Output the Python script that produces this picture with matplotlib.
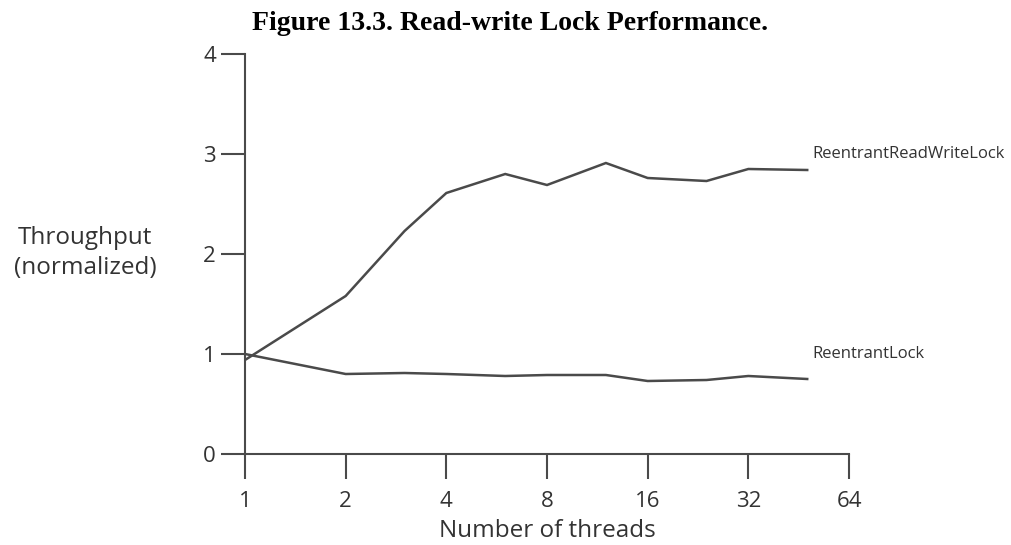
import matplotlib
matplotlib.use("Agg")
import matplotlib.pyplot as plt
from matplotlib.ticker import FixedLocator, FixedFormatter, NullLocator

# Data
threads = [1, 2, 3, 4, 6, 8, 12, 16, 24, 32, 48]
rw_lock = [0.94, 1.58, 2.23, 2.61, 2.80, 2.69, 2.91, 2.76, 2.73, 2.85, 2.84]
r_lock = [1.00, 0.80, 0.81, 0.80, 0.78, 0.79, 0.79, 0.73, 0.74, 0.78, 0.75]
x_ticks = [1, 2, 4, 8, 16, 32, 64]
x_tick_labels = ["1", "2", "4", "8", "16", "32", "64"]
y_ticks = [0, 1, 2, 3, 4]
series_labels = ["ReentrantReadWriteLock", "ReentrantLock"]
title = "Figure 13.3. Read-write Lock Performance."
xlabel = "Number of threads"
ylabel = "Throughput\n(normalized)"

W, H = 1011, 545
fig = plt.figure(figsize=(W / 100, H / 100), dpi=100)
ax = fig.add_axes([245 / W, (H - 454) / H, (849 - 245) / W, 400 / H])

line_color = "#4a4a4a"
text_color = "#333333"
sans = ["Open Sans", "DejaVu Sans"]

ax.plot(threads, rw_lock, color=line_color, lw=1.8, solid_joinstyle="miter")
ax.plot(threads, r_lock, color=line_color, lw=1.8, solid_joinstyle="miter")

ax.set_xscale("log", base=2)
ax.set_xlim(1, 64)
ax.set_ylim(0, 4)
ax.xaxis.set_major_locator(FixedLocator(x_ticks))
ax.xaxis.set_major_formatter(FixedFormatter(x_tick_labels))
ax.xaxis.set_minor_locator(NullLocator())
ax.set_yticks(y_ticks)
ax.set_yticklabels([str(v) for v in y_ticks])

for s in ["top", "right"]:
    ax.spines[s].set_visible(False)
for s in ["left", "bottom"]:
    ax.spines[s].set_color(line_color)
    ax.spines[s].set_linewidth(1.5)
ax.spines["left"].set_bounds(0, 4)

ax.tick_params(axis="x", direction="out", length=18, width=1.5, color=line_color,
               pad=8.5, labelsize=16, labelcolor=text_color)
ax.tick_params(axis="y", direction="out", length=17, width=1.5, color=line_color,
               pad=4, labelsize=16, labelcolor=text_color)
for lab in ax.get_xticklabels() + ax.get_yticklabels():
    lab.set_family(sans)

ax.set_xlabel(xlabel, fontsize=17.5, color=text_color, family=sans, labelpad=5)

fig.text(85 / W, 1 - 253 / H, ylabel, ha="center", va="center", fontsize=17.5,
         color=text_color, family=sans, linespacing=1.3)

ax.annotate(series_labels[0], xy=(threads[-1], rw_lock[-1]), xytext=(3.6, 11.5),
            textcoords="offset points", ha="left", va="center", fontsize=12,
            color=text_color, family=sans)
ax.annotate(series_labels[1], xy=(threads[-1], r_lock[-1]), xytext=(3.6, 18),
            textcoords="offset points", ha="left", va="center", fontsize=12,
            color=text_color, family=sans)

fig.text(510 / W, 1 - 23 / H, title, ha="center", va="center", fontsize=20,
         fontweight="bold", family=["Liberation Serif", "DejaVu Serif"], color="black")

fig.savefig("out.png", dpi=100)
